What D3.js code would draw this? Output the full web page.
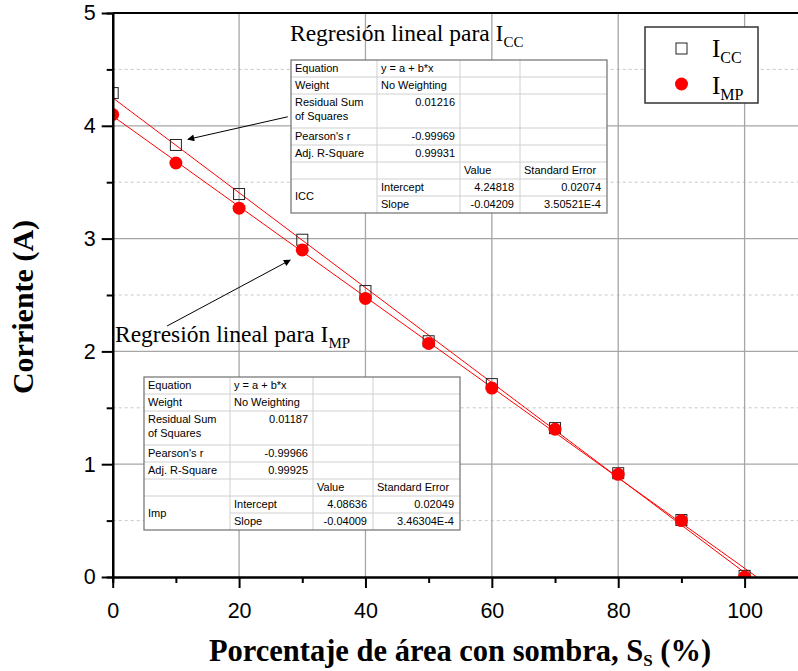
<!DOCTYPE html>
<html>
<head>
<meta charset="utf-8">
<script src="https://cdn.jsdelivr.net/npm/d3@7"></script>
<style>
  body { margin: 0; background: #fff; }
</style>
</head>
<body>
<svg id="chart" width="798" height="671"></svg>
<script>
// shaded area (%) and measured currents (A)
var shade = [0, 10, 20, 30, 40, 50, 60, 70, 80, 90, 100];
var iccValues = [4.29, 3.83, 3.395, 2.99, 2.535, 2.09, 1.71, 1.32, 0.92, 0.505, 0.01];
var impValues = [4.10, 3.67, 3.27, 2.90, 2.47, 2.07, 1.675, 1.31, 0.91, 0.50, 0.0];

var xTicks = [0, 20, 40, 60, 80, 100];
var xMinor = [10, 30, 50, 70, 90];
var yTicks = [0, 1, 2, 3, 4, 5];
var yMinor = [0.5, 1.5, 2.5, 3.5, 4.5];

// fit tables
var statNames = ["Equation", "Weight", "Residual Sum|of Squares", "Pearson's r", "Adj. R-Square"];
var fitHeader = ["Value", "Standard Error"];
var iccStats = ["y = a + b*x", "No Weighting", "0.01216", "-0.99969", "0.99931"];
var iccIntercept = ["4.24818", "0.02074"];
var iccSlope = ["-0.04209", "3.50521E-4"];
var impStats = ["y = a + b*x", "No Weighting", "0.01187", "-0.99966", "0.99925"];
var impIntercept = ["4.08636", "0.02049"];
var impSlope = ["-0.04009", "3.46304E-4"];

// arrows in data units [x1, y1, x2, y2]
var arrowIcc = [27.7, 4.08, 11.9, 3.88];
var arrowImp = [8.6, 2.225, 28.1, 2.81];

var serif = "'Times New Roman', 'Liberation Serif', serif";
var sans = "Arial, 'Liberation Sans', sans-serif";

var svg = d3.select("#chart");
var plotLeft = 112.7, plotTop = 13, plotBottom = 577;

var x = d3.scaleLinear().domain([0, 110]).range([plotLeft, plotLeft + 110 * 6.319]);
var y = d3.scaleLinear().domain([0, 5]).range([plotBottom, plotTop]);

var defs = svg.append("defs");
defs.append("clipPath").attr("id", "plotclip")
    .append("rect")
    .attr("x", plotLeft).attr("y", plotTop)
    .attr("width", 798 - plotLeft).attr("height", plotBottom - plotTop);
defs.append("marker")
    .attr("id", "head")
    .attr("viewBox", "0 0 10 10")
    .attr("refX", 9).attr("refY", 5)
    .attr("markerWidth", 11).attr("markerHeight", 7)
    .attr("markerUnits", "userSpaceOnUse")
    .attr("orient", "auto")
    .append("path").attr("d", "M0,0 L10,5 L0,10 z").attr("fill", "#000");

// grid
var grid = svg.append("g");
grid.selectAll("line.minor").data(yMinor).enter().append("line")
    .attr("x1", plotLeft).attr("x2", 798)
    .attr("y1", function (d) { return y(d); }).attr("y2", function (d) { return y(d); })
    .attr("stroke", "#c8c8c8").attr("stroke-width", 1).attr("stroke-dasharray", "3,3");
grid.selectAll("line.hy").data(yTicks.slice(1, 5)).enter().append("line")
    .attr("x1", plotLeft).attr("x2", 798)
    .attr("y1", function (d) { return y(d); }).attr("y2", function (d) { return y(d); })
    .attr("stroke", "#a6a6a6").attr("stroke-width", 1.3);
grid.selectAll("line.vx").data(xTicks.slice(1)).enter().append("line")
    .attr("x1", function (d) { return x(d); }).attr("x2", function (d) { return x(d); })
    .attr("y1", plotTop).attr("y2", plotBottom)
    .attr("stroke", "#a6a6a6").attr("stroke-width", 1.3);

// regression lines and points
var plot = svg.append("g").attr("clip-path", "url(#plotclip)");
var fits = [
    { a: +iccIntercept[0], b: +iccSlope[0] },
    { a: +impIntercept[0], b: +impSlope[0] }
];
var line = d3.line().x(function (d) { return x(d[0]); }).y(function (d) { return y(d[1]); });
fits.forEach(function (f) {
    var xEnd = -f.a / f.b;
    plot.append("path")
        .attr("d", line([[0, f.a], [xEnd, f.a + f.b * xEnd]]))
        .attr("fill", "none").attr("stroke", "#ff0000").attr("stroke-width", 1);
});

plot.selectAll("rect.icc").data(shade).enter().append("rect")
    .attr("x", function (d) { return x(d) - 5.5; })
    .attr("y", function (d, i) { return y(iccValues[i]) - 5.5; })
    .attr("width", 11).attr("height", 11)
    .attr("fill", "none").attr("stroke", "#222").attr("stroke-width", 1);

plot.selectAll("circle.imp").data(shade).enter().append("circle")
    .attr("cx", function (d) { return x(d); })
    .attr("cy", function (d, i) { return y(impValues[i]); })
    .attr("r", 6.5)
    .attr("fill", "#ff0000");

// axes
var axisStyle = function (g) {
    g.select(".domain").attr("stroke", "#000").attr("stroke-width", 2.2);
    g.selectAll(".tick line").attr("stroke", "#000").attr("stroke-width", 2);
    g.selectAll(".tick text").attr("fill", "#000").style("font-family", sans).style("font-size", "21.5px");
};

svg.append("g")
    .attr("transform", "translate(0," + plotBottom + ")")
    .call(d3.axisBottom(x).tickValues(xMinor).tickSize(6).tickFormat(""))
    .call(axisStyle);
svg.append("g")
    .attr("transform", "translate(0," + plotBottom + ")")
    .call(d3.axisBottom(x).tickValues(xTicks).tickSize(11).tickPadding(15).tickSizeOuter(0).tickFormat(d3.format("d")))
    .call(axisStyle);

svg.append("g")
    .attr("transform", "translate(" + plotLeft + ",0)")
    .call(d3.axisLeft(y).tickValues(yMinor).tickSize(6).tickFormat(""))
    .call(axisStyle);
svg.append("g")
    .attr("transform", "translate(" + plotLeft + ",0)")
    .call(d3.axisLeft(y).tickValues(yTicks).tickSize(11).tickPadding(6).tickSizeOuter(0).tickFormat(d3.format("d")))
    .call(axisStyle);

// top frame
svg.append("line")
    .attr("x1", plotLeft).attr("x2", 798).attr("y1", y(5)).attr("y2", y(5))
    .attr("stroke", "#000").attr("stroke-width", 2.2);

// axis titles
svg.append("text")
    .attr("transform", "translate(33," + ((plotTop + plotBottom) / 2 + 12) + ") rotate(-90)")
    .attr("text-anchor", "middle")
    .style("font-family", serif).style("font-size", "30px").style("font-weight", "bold")
    .text("Corriente (A)");

var xt = svg.append("text")
    .attr("x", 460).attr("y", 661)
    .attr("text-anchor", "middle")
    .style("font-family", serif).style("font-size", "30.5px").style("font-weight", "bold");
xt.append("tspan").text("Porcentaje de área con sombra, S");
xt.append("tspan").attr("dy", 5).style("font-size", "17px").text("S");
xt.append("tspan").attr("dy", -5).text(" (%)");

// tables
function drawTable(x0, y0, name, stats, intercept, slope) {
    var colW = [86, 83, 60, 87];
    var rowH = 17;
    var cx = [x0];
    colW.forEach(function (w, i) { cx.push(cx[i] + w); });
    var units = [1, 1, 2, 1, 1, 1, 1, 1];
    var ry = [y0];
    units.forEach(function (u, i) { ry.push(ry[i] + u * rowH); });
    var W = cx[4] - x0, H = ry[8] - y0;
    var g = svg.append("g");
    g.append("rect").attr("x", x0).attr("y", y0).attr("width", W).attr("height", H)
        .attr("fill", "#fff");
    // inner lines
    for (var i = 1; i < 8; i++) {
        g.append("line")
            .attr("x1", i === 7 ? cx[1] : x0).attr("x2", cx[4])
            .attr("y1", ry[i]).attr("y2", ry[i])
            .attr("stroke", "#d0d0d0").attr("stroke-width", 1);
    }
    for (var j = 1; j < 4; j++) {
        g.append("line")
            .attr("x1", cx[j]).attr("x2", cx[j]).attr("y1", y0).attr("y2", ry[8])
            .attr("stroke", "#d0d0d0").attr("stroke-width", 1);
    }
    g.append("rect").attr("x", x0).attr("y", y0).attr("width", W).attr("height", H)
        .attr("fill", "none").attr("stroke", "#707070").attr("stroke-width", 1.2);

    var txt = function (tx, ty, s, anchor) {
        g.append("text").attr("x", tx).attr("y", ty)
            .attr("text-anchor", anchor || "start")
            .style("font-family", sans).style("font-size", "11px").attr("fill", "#000")
            .text(s);
    };
    statNames.forEach(function (s, i) {
        var parts = s.split("|");
        parts.forEach(function (p, k) { txt(x0 + 4, ry[i] + 12 + k * 13.5, p); });
        if (i < 2) txt(cx[1] + 4, ry[i] + 12, stats[i]);
        else txt(cx[2] - 5, ry[i] + 11.5, stats[i], "end");
    });
    txt(cx[2] + 4, ry[5] + 12, fitHeader[0]);
    txt(cx[3] + 4, ry[5] + 12, fitHeader[1]);
    txt(x0 + 4, (ry[6] + ry[8]) / 2 + 4, name);
    txt(cx[1] + 4, ry[6] + 12, "Intercept");
    txt(cx[1] + 4, ry[7] + 12, "Slope");
    txt(cx[3] - 6, ry[6] + 12, intercept[0], "end");
    txt(cx[4] - 6, ry[6] + 12, intercept[1], "end");
    txt(cx[3] - 6, ry[7] + 12, slope[0], "end");
    txt(cx[4] - 6, ry[7] + 12, slope[1], "end");
}
drawTable(291, 60, "ICC", iccStats, iccIntercept, iccSlope);
drawTable(144, 377, "Imp", impStats, impIntercept, impSlope);

// titles over tables
function subTitle(tx, ty, main, sub) {
    var t = svg.append("text").attr("x", tx).attr("y", ty)
        .style("font-family", serif).style("font-size", "23.5px").attr("fill", "#000");
    t.append("tspan").text(main);
    t.append("tspan").attr("dy", 6).style("font-size", "15px").text(sub);
}
subTitle(290, 41, "Regresión lineal para I", "CC");
subTitle(115, 342, "Regresión lineal para I", "MP");

// arrows
[arrowIcc, arrowImp].forEach(function (a) {
    svg.append("line")
        .attr("x1", x(a[0])).attr("y1", y(a[1]))
        .attr("x2", x(a[2])).attr("y2", y(a[3]))
        .attr("stroke", "#000").attr("stroke-width", 1)
        .attr("marker-end", "url(#head)");
});

// legend
var lg = svg.append("g");
lg.append("rect").attr("x", 645).attr("y", 27).attr("width", 113).attr("height", 76)
    .attr("fill", "#fff").attr("stroke", "#333").attr("stroke-width", 1.5);
lg.append("rect").attr("x", 676).attr("y", 43).attr("width", 11).attr("height", 11)
    .attr("fill", "#fff").attr("stroke", "#222").attr("stroke-width", 1);
lg.append("circle").attr("cx", 681.5).attr("cy", 84).attr("r", 6.5).attr("fill", "#ff0000");
[["CC", 57], ["MP", 94]].forEach(function (l) {
    var t = lg.append("text").attr("x", 712).attr("y", l[1])
        .style("font-family", serif).style("font-size", "25px").attr("fill", "#000");
    t.append("tspan").text("I");
    t.append("tspan").attr("dy", 6).style("font-size", "16px").text(l[0]);
});
</script>
</body>
</html>
